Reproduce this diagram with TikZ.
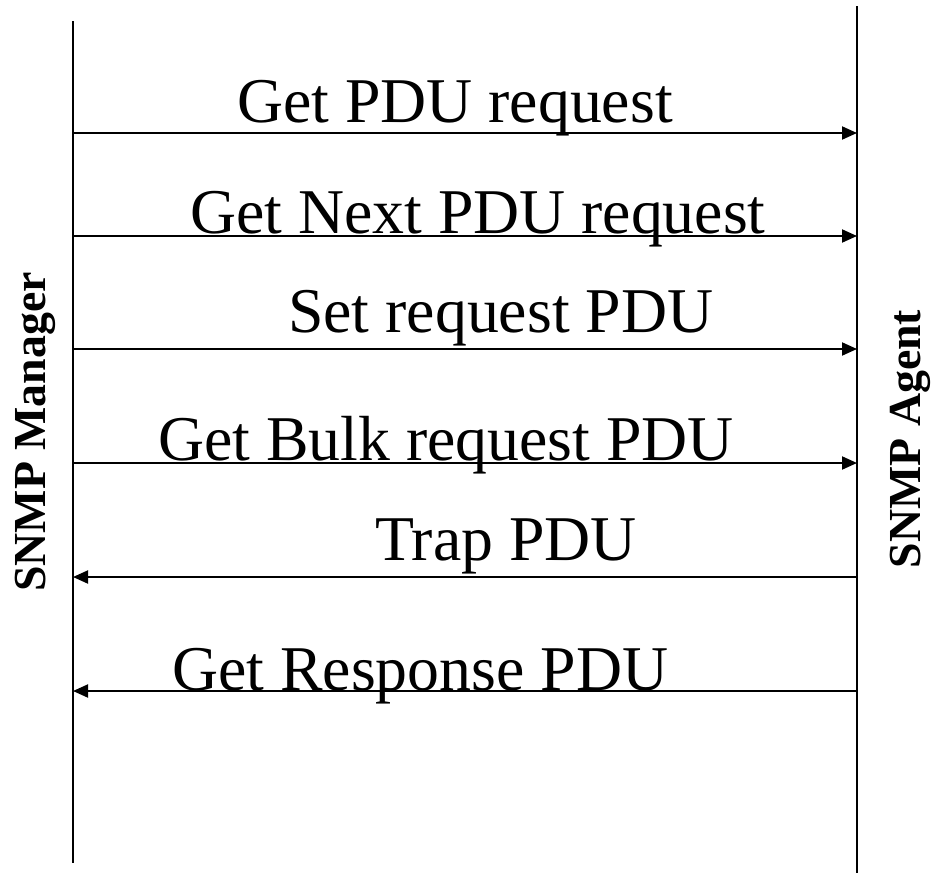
\documentclass[tikz,border=0pt]{standalone}
\usepackage{fontspec}
\setmainfont{Liberation Serif}
\usetikzlibrary{arrows.meta}
\tikzset{
  lifeline/.style={line width=2bp, line cap=butt},
  msg/.style={line width=2bp, -{Triangle[length=15bp,width=13bp]}},
  msglabel/.style={anchor=base west, inner sep=0pt, font=\fontsize{64}{70}\selectfont},
  sidelabel/.style={anchor=base, rotate=90, inner sep=0pt, font=\fontsize{46}{50}\selectfont\bfseries}
}
\begin{document}
\begin{tikzpicture}[x=1bp,y=-1bp]
\useasboundingbox (0,0) rectangle (932,873);
% lifelines
\coordinate (mtop) at (73,21);
\coordinate (mbot) at (73,863);
\coordinate (atop) at (857,6);
\coordinate (abot) at (857,873);
\draw[lifeline] (mtop) -- (mbot);
\draw[lifeline] (atop) -- (abot);
% message endpoints
\foreach \i/\y in {1/133,2/236,3/349,4/463,5/577,6/691}{
  \coordinate (m\i) at (73,\y);
  \coordinate (a\i) at (857,\y);
}
\draw[msg] (m1) -- (a1);
\draw[msg] (m2) -- (a2);
\draw[msg] (m3) -- (a3);
\draw[msg] (m4) -- (a4);
\draw[msg] (a5) -- (m5);
\draw[msg] (a6) -- (m6);
% labels
\node[msglabel] (l1) at (237,122) {Get PDU request};
\node[msglabel] (l2) at (190,233) {Get Next PDU request};
\node[msglabel] (l3) at (288,332) {Set request PDU};
\node[msglabel] (l4) at (158,460) {Get Bulk request PDU};
\node[msglabel] (l5) at (375,560) {Trap PDU};
\node[msglabel] (l6) at (172,690) {Get Response PDU};
\node[sidelabel] (mgr) at (45,432) {SNMP Manager};
\node[sidelabel] (agt) at (920,439) {SNMP Agent};
\end{tikzpicture}
\end{document}
